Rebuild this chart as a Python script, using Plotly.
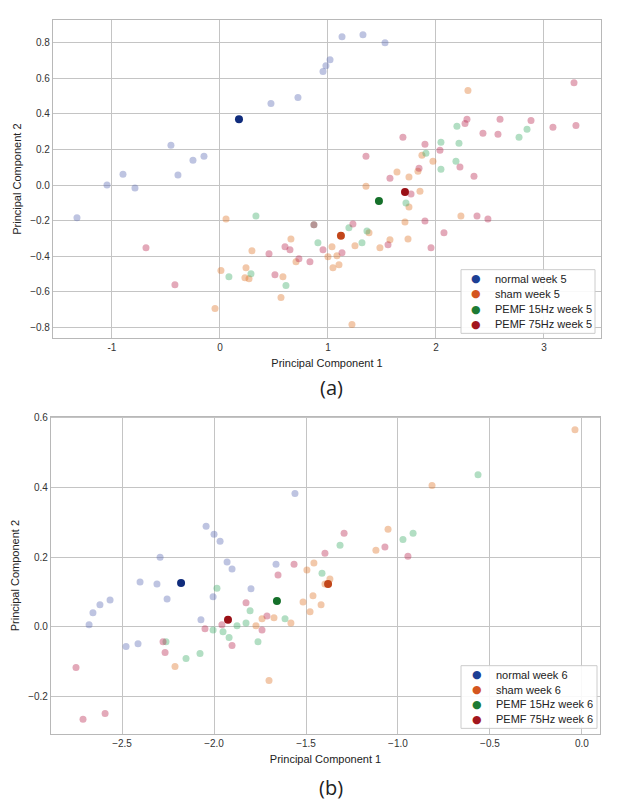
import plotly.graph_objects as go

# ---------------- (a) week 5 ----------------
normal5_x = [1.13, 1.324, 1.528, 1.019, 0.981, 0.954, 0.722, 0.472, -0.454, -0.148, -0.25, -0.898, -0.389, -1.046, -0.787, -1.324]
normal5_y = [0.832, 0.844, 0.799, 0.704, 0.670, 0.637, 0.492, 0.458, 0.223, 0.162, 0.140, 0.061, 0.056, 0.0, -0.017, -0.184]
sham5_x = [0.056, 0.657, 0.296, 0.704, 0.009, 0.241, 0.231, 0.269, 0.583, 0.565, -0.046, 1.037, 1.083, 1.0, 1.102, 1.046,
           1.25, 1.481, 1.574, 1.38, 1.713, 1.741, 1.222, 1.352, 1.639, 1.75, 1.75, 1.852, 1.87, 1.972, 1.833, 2.231, 2.296]
sham5_y = [-0.19, -0.302, -0.369, -0.43, -0.48, -0.464, -0.52, -0.525, -0.514, -0.631, -0.693, -0.346, -0.397, -0.402, -0.447, -0.464,
           -0.341, -0.352, -0.307, -0.268, -0.207, -0.302, -0.782, -0.006, 0.073, 0.045, -0.123, -0.034, 0.168, 0.134, 0.078, -0.173, 0.531]
pemf15_5_x = [0.333, 0.87, 0.907, 0.287, 0.083, 0.611, 1.194, 1.361, 1.315, 1.722, 1.907, 2.046, 2.213, 2.185, 2.046, 2.194, 2.769, 2.843]
pemf15_5_y = [-0.173, -0.223, -0.324, -0.497, -0.514, -0.564, -0.24, -0.257, -0.324, -0.101, 0.179, 0.24, 0.235, 0.134, 0.089, 0.33, 0.268, 0.313]
pemf75_5_x = [-0.685, -0.417, 0.602, 0.648, 0.454, 0.954, 0.833, 0.731, 0.509, 1.13, 1.231, 1.556, 1.352, 1.574, 1.769, 1.694, 1.898, 2.037,
              1.843, 2.222, 2.352, 1.898, 2.38, 2.481, 2.074, 1.954, 2.269, 2.287, 2.593, 2.88, 2.435, 2.574, 3.083, 3.296, 3.278, 0.87]
pemf75_5_y = [-0.352, -0.559, -0.346, -0.363, -0.385, -0.363, -0.43, -0.413, -0.503, -0.38, -0.218, -0.335, 0.162, 0.039, -0.05, 0.268, 0.229, 0.196,
              0.095, 0.101, 0.05, -0.201, -0.173, -0.19, -0.268, -0.352, 0.346, 0.369, 0.369, 0.363, 0.291, 0.285, 0.324, 0.335, 0.575, -0.223]
mean5_x = [0.176, 1.12, 1.472, 1.713]
mean5_y = [0.369, -0.285, -0.089, -0.039]
labels5 = ["normal week 5", "sham week 5", "PEMF 15Hz week 5", "PEMF 75Hz week 5"]

# ---------------- (b) week 6 ----------------
normal6_x = [-1.56, -2.043, -2.0, -1.967, -2.293, -1.929, -1.902, -1.663, -2.402, -2.31, -1.799, -2.005, -2.565, -2.255, -2.62, -2.658, -2.679, -2.071, -2.478, -2.413]
normal6_y = [0.383, 0.289, 0.266, 0.246, 0.2, 0.186, 0.166, 0.18, 0.129, 0.123, 0.109, 0.086, 0.077, 0.08, 0.063, 0.04, 0.006, 0.02, -0.057, -0.049]
sham6_x = [-0.038, -0.815, -1.054, -1.12, -1.457, -1.495, -1.37, -1.397, -1.462, -1.516, -1.418, -1.478, -1.739, -1.674, -1.582, -1.772, -2.212, -1.701]
sham6_y = [0.566, 0.406, 0.28, 0.22, 0.183, 0.163, 0.137, 0.123, 0.089, 0.071, 0.063, 0.043, 0.023, 0.026, 0.011, 0.003, -0.114, -0.154]
pemf15_6_x = [-0.565, -0.918, -0.973, -1.315, -1.413, -1.614, -1.761, -1.984, -1.804, -1.826, -1.875, -2.005, -1.951, -1.918, -2.261, -2.076, -2.152]
pemf15_6_y = [0.437, 0.269, 0.251, 0.234, 0.154, 0.023, -0.043, 0.111, 0.046, 0.011, 0.003, -0.009, -0.014, -0.031, -0.043, -0.077, -0.091]
pemf75_6_x = [-1.293, -1.071, -1.397, -0.946, -1.565, -1.652, -1.712, -1.739, -1.826, -1.957, -2.049, -1.902, -2.277, -2.266, -2.75, -2.592, -2.712]
pemf75_6_y = [0.269, 0.229, 0.211, 0.203, 0.18, 0.149, 0.031, -0.009, 0.069, 0.006, -0.006, -0.054, -0.043, -0.074, -0.117, -0.249, -0.266]
mean6_x = [-2.179, -1.38, -1.658, -1.924]
mean6_y = [0.126, 0.123, 0.074, 0.02]
labels6 = ["normal week 6", "sham week 6", "PEMF 15Hz week 6", "PEMF 75Hz week 6"]

faint_colors = ["rgba(92,107,180,0.4)", "rgba(222,117,42,0.4)", "rgba(62,172,105,0.4)", "rgba(186,40,80,0.4)"]
mean_colors = ["#102c7c", "#c2461a", "#15702a", "#9a1016"]
legend_colors = ["#1d3f94", "#d4561f", "#1d7b34", "#a3161d"]

W, H = 618, 800
fig = go.Figure()
shapes, annotations = [], []
font_fam = "Liberation Sans, Arial, sans-serif"

def add_panel(groups, mx, my, labels, xa, ya, box, rows_y, dot_x, text_x):
    for (gx, gy), c in zip(groups, faint_colors):
        fig.add_trace(go.Scatter(x=gx, y=gy, mode="markers", xaxis=xa, yaxis=ya, showlegend=False,
                                 marker=dict(size=7, color=c, line=dict(width=0)), hoverinfo="skip"))
    for i in range(4):
        fig.add_trace(go.Scatter(x=[mx[i]], y=[my[i]], mode="markers", xaxis=xa, yaxis=ya, name=labels[i],
                                 showlegend=False, marker=dict(size=8, color=mean_colors[i], line=dict(width=0))))
    # compact legend box (matplotlib-style)
    x0, y0, x1, y1 = box
    shapes.append(dict(type="rect", xref="paper", yref="paper", x0=x0/W, x1=x1/W, y0=1-y1/H, y1=1-y0/H,
                       line=dict(color="#cccccc", width=1), fillcolor="rgba(255,255,255,0.9)", layer="above"))
    for i in range(4):
        annotations.append(dict(text="●", x=dot_x/W, y=1-rows_y[i]/H, xref="paper", yref="paper", showarrow=False,
                                xanchor="center", yanchor="middle", font=dict(size=11, color=legend_colors[i], family="DejaVu Sans")))
        annotations.append(dict(text=labels[i], x=text_x/W, y=1-rows_y[i]/H, xref="paper", yref="paper", showarrow=False,
                                xanchor="left", yanchor="middle", font=dict(size=11, color="#222", family=font_fam)))

add_panel([(normal5_x, normal5_y), (sham5_x, sham5_y), (pemf15_5_x, pemf15_5_y), (pemf75_5_x, pemf75_5_y)],
          mean5_x, mean5_y, labels5, "x", "y", (461, 267, 595, 331), [276, 291, 307, 322], 476, 493)
add_panel([(normal6_x, normal6_y), (sham6_x, sham6_y), (pemf15_6_x, pemf15_6_y), (pemf75_6_x, pemf75_6_y)],
          mean6_x, mean6_y, labels6, "x2", "y2", (461, 665, 597, 728), [674, 689, 704, 719], 477, 494)

grid = "#c4c4c4"
tickfont = dict(family=font_fam, size=10, color="#333")
titlefont = dict(family=font_fam, size=11, color="#222")
axcommon = dict(showgrid=True, gridcolor=grid, gridwidth=1, zeroline=False, showline=True, linecolor="#b8b8b8",
                linewidth=1.2, mirror=True, ticks="", tickfont=tickfont)

annotations += [
    dict(text="(a)", x=331/W, y=1-385/H, xref="paper", yref="paper", showarrow=False, yanchor="middle",
         font=dict(family="Open Sans, sans-serif", size=20, color="#222")),
    dict(text="(b)", x=331/W, y=1-787/H, xref="paper", yref="paper", showarrow=False, yanchor="middle",
         font=dict(family="Open Sans, sans-serif", size=20, color="#222")),
]

fig.update_layout(
    width=W, height=H, margin=dict(l=0, r=0, t=0, b=0),
    plot_bgcolor="white", paper_bgcolor="white", showlegend=False,
    xaxis=dict(domain=[53/W, 601/W], range=[-1.546, 3.528], tickvals=[-1, 0, 1, 2, 3], ticktext=["-1", "0", "1", "2", "3"],
               title=dict(text="Principal Component 1", font=titlefont, standoff=6), anchor="y", **axcommon),
    yaxis=dict(domain=[1-336/H, 1-16/H], range=[-0.86, 0.927], tickvals=[-0.8, -0.6, -0.4, -0.2, 0, 0.2, 0.4, 0.6, 0.8],
               tickformat=".1f", title=dict(text="Principal Component 2", font=titlefont, standoff=6), anchor="x", **axcommon),
    xaxis2=dict(domain=[51/W, 600/W], range=[-2.886, 0.098], tickvals=[-2.5, -2.0, -1.5, -1.0, -0.5, 0.0], tickformat=".1f",
                title=dict(text="Principal Component 1", font=titlefont, standoff=6), anchor="y2", **axcommon),
    yaxis2=dict(domain=[1-734/H, 1-415/H], range=[-0.309, 0.603], tickvals=[-0.2, 0.0, 0.2, 0.4, 0.6], tickformat=".1f",
                title=dict(text="Principal Component 2", font=titlefont, standoff=6), anchor="x2", **axcommon),
    shapes=shapes,
    annotations=annotations,
)

fig.write_html("out.html")
